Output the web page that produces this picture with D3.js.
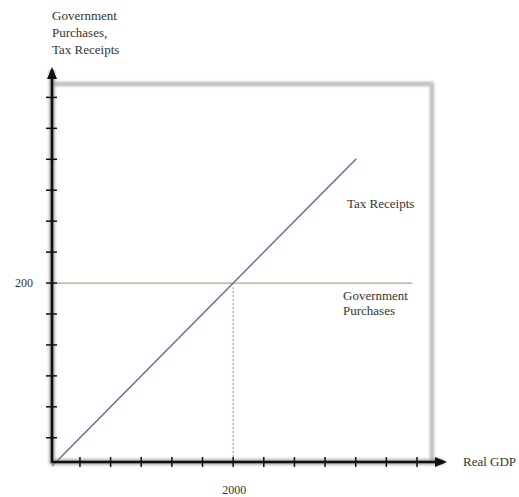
<!DOCTYPE html>
<html><head><meta charset="utf-8">
<script src="https://cdn.jsdelivr.net/npm/d3@7"></script>
<style>body{margin:0;background:#fff}svg{display:block}text{font-family:"Liberation Serif","DejaVu Serif",serif;fill:#333}</style>
</head><body>
<script>
// ---- data ----
const xTickValues = d3.range(1, 13).map(k => k * 4000 / 12);
const yTickValues = d3.range(1, 13).map(k => k * 400 / 12);
const xLabelValues = [2000];
const xLabelText = ["2000"];
const yLabelValues = [200];
const yLabelText = ["200"];
const taxGDP = [30, 3340];
const taxValue = [3, 334];
const govGDP = [30, 3949];
const govValue = [200, 200];
const eqGDP = 2000, eqValue = 200;

const W = 519, H = 497;
const svg = d3.select("body").append("svg").attr("width", W).attr("height", H);
const defs = svg.append("defs");
const f = defs.append("filter").attr("id", "sh").attr("x", "-20%").attr("y", "-20%").attr("width", "140%").attr("height", "140%");
f.append("feGaussianBlur").attr("stdDeviation", 1.6);

const x = d3.scaleLinear().domain([0, 4000]).range([49.3, 417]);
const y = d3.scaleLinear().domain([0, 400]).range([468.7, 97.4]);

const ox = 52, oy = 462, topY = 83, rightX = 431;

// frame (grey) with shadow
const frame = svg.append("g");
frame.append("path").attr("d", `M${ox},${topY + 1}H${rightX + 1}V${oy}`).attr("fill", "none")
  .attr("stroke", "#b5b5b5").attr("stroke-width", 4).attr("filter", "url(#sh)");
frame.append("path").attr("d", `M${ox},${topY}H${rightX}V${oy}`).attr("fill", "none")
  .attr("stroke", "#c8c8c8").attr("stroke-width", 1.5);

// lines
const line = d3.line().x(d => x(d[0])).y(d => y(d[1]));
svg.append("path").datum(govGDP.map((g, i) => [g, govValue[i]])).attr("d", line)
  .attr("fill", "none").attr("stroke", "#9fb07f").attr("stroke-width", 1.3);
svg.append("path").datum(taxGDP.map((g, i) => [g, taxValue[i]])).attr("d", line)
  .attr("fill", "none").attr("stroke", "#5b6a9c").attr("stroke-width", 1.4);
svg.append("line").attr("x1", x(eqGDP)).attr("x2", x(eqGDP)).attr("y1", y(eqValue)).attr("y2", oy)
  .attr("stroke", "#e07070").attr("stroke-width", 1).attr("stroke-dasharray", "2,2");

// axes shadow
const axPath = `M${ox},70V${oy}H444`;
svg.append("path").attr("d", axPath).attr("fill", "none").attr("stroke", "#999")
  .attr("stroke-width", 5).attr("filter", "url(#sh)");
svg.append("path").attr("d", axPath).attr("fill", "none").attr("stroke", "#111").attr("stroke-width", 2.6);
// arrows
svg.append("path").attr("d", `M${ox},67L${ox - 5},79L${ox + 5},79Z`).attr("fill", "#111");
svg.append("path").attr("d", `M447,${oy}L435,${oy - 5}L435,${oy + 5}Z`).attr("fill", "#111");

// ticks
svg.append("g").selectAll("line").data(xTickValues).join("line")
  .attr("x1", d => x(d)).attr("x2", d => x(d)).attr("y1", oy - 5).attr("y2", oy + 5)
  .attr("stroke", "#111").attr("stroke-width", 1.5);
svg.append("g").selectAll("line").data(yTickValues).join("line")
  .attr("y1", d => y(d)).attr("y2", d => y(d)).attr("x1", ox - 6).attr("x2", ox + 5)
  .attr("stroke", "#111").attr("stroke-width", 1.5);

// labels
const fs = 13;
svg.append("g").selectAll("text").data(xLabelValues).join("text")
  .attr("x", d => x(d) + 1).attr("y", 494).attr("text-anchor", "middle").attr("font-size", 12)
  .text((d, i) => xLabelText[i]);
svg.append("g").selectAll("text").data(yLabelValues).join("text")
  .attr("x", 33).attr("y", d => y(d) + 4).attr("text-anchor", "end").attr("font-size", 12)
  .text((d, i) => yLabelText[i]);

const yTitle = svg.append("text").attr("x", 52).attr("y", 20).attr("font-size", fs);
["Government", "Purchases,", "Tax Receipts"].forEach((t, i) =>
  yTitle.append("tspan").attr("x", 52).attr("dy", i ? 17 : 0).text(t));

svg.append("text").attr("x", 463).attr("y", 466).attr("font-size", fs).text("Real GDP");
svg.append("text").attr("x", 347).attr("y", 208).attr("font-size", fs).text("Tax Receipts");
const gp = svg.append("text").attr("x", 343).attr("y", 300).attr("font-size", fs);
["Government", "Purchases"].forEach((t, i) =>
  gp.append("tspan").attr("x", 343).attr("dy", i ? 15 : 0).text(t));
</script>
</body></html>
